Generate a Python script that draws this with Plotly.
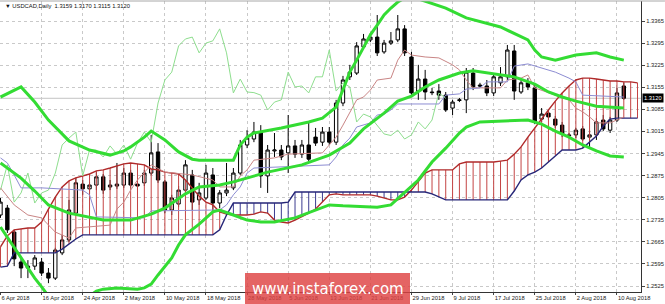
import plotly.graph_objects as go

# ---------------- data ----------------
date_labels = ["6 Apr 2018", "16 Apr 2018", "24 Apr 2018", "2 May 2018", "10 May 2018",
               "18 May 2018", "28 May 2018", "5 Jun 2018", "13 Jun 2018", "21 Jun 2018",
               "29 Jun 2018", "9 Jul 2018", "17 Jul 2018", "25 Jul 2018", "2 Aug 2018",
               "10 Aug 2018"]
date_label_bars = [0, 6, 12, 18, 24, 30, 36, 42, 48, 54, 60, 66, 72, 78, 84, 90]

price_ticks = ["1.3365", "1.3295", "1.3225", "1.3155", "1.3085", "1.3015", "1.2945",
               "1.2875", "1.2805", "1.2735", "1.2665", "1.2595", "1.2525"]

opens = [1.2750, 1.2772, 1.2696, 1.2601, 1.2582, 1.2588, 1.2601, 1.2566, 1.2550, 1.2630,
         1.2671, 1.2756, 1.2848, 1.2833, 1.2845, 1.2871, 1.2839, 1.2842, 1.2845, 1.2883,
         1.2848, 1.2852, 1.2883, 1.2950, 1.2855, 1.2766, 1.2785, 1.2829, 1.2877, 1.2798,
         1.2804, 1.2877, 1.2788, 1.2820, 1.2836, 1.2883, 1.2972, 1.2991, 1.3013, 1.2874,
         1.2953, 1.2956, 1.2947, 1.2969, 1.2943, 1.2972, 1.2997, 1.2981, 1.3013, 1.2981,
         1.3105, 1.3188, 1.3200, 1.3283, 1.3305, 1.3314, 1.3267, 1.3295, 1.3305, 1.3340,
         1.3251, 1.3143, 1.3181, 1.3140, 1.3143, 1.3130, 1.3089, 1.3113, 1.3115, 1.3200,
         1.3162, 1.3159, 1.3137, 1.3169, 1.3188, 1.3270, 1.3140, 1.3169, 1.3153, 1.3054,
         1.3073, 1.3054, 1.3035, 1.3004, 1.3004, 1.3023, 1.2997, 1.3004, 1.3051, 1.3019,
         1.3051, 1.3159]
highs = [1.2804, 1.2782, 1.2703, 1.2611, 1.2607, 1.2623, 1.2614, 1.2582, 1.2646, 1.2687,
         1.2798, 1.2868, 1.2861, 1.2855, 1.2886, 1.2880, 1.2861, 1.2915, 1.2899, 1.2893,
         1.2861, 1.2893, 1.3004, 1.2978, 1.2861, 1.2814, 1.2842, 1.2924, 1.2893, 1.2852,
         1.2909, 1.2899, 1.2829, 1.2915, 1.2899, 1.2988, 1.3019, 1.3045, 1.3035, 1.2972,
         1.3010, 1.2972, 1.3067, 1.2988, 1.2988, 1.3042, 1.3026, 1.3029, 1.3029, 1.3115,
         1.3191, 1.3226, 1.3298, 1.3324, 1.3327, 1.3384, 1.3305, 1.3330, 1.3384, 1.3352,
         1.3267, 1.3226, 1.3210, 1.3153, 1.3165, 1.3140, 1.3115, 1.3121, 1.3216, 1.3216,
         1.3169, 1.3178, 1.3194, 1.3219, 1.3289, 1.3289, 1.3178, 1.3184, 1.3162, 1.3089,
         1.3083, 1.3064, 1.3045, 1.3010, 1.3026, 1.3032, 1.3019, 1.3057, 1.3067, 1.3061,
         1.3153, 1.3170]
lows = [1.2741, 1.2693, 1.2588, 1.2550, 1.2550, 1.2576, 1.2557, 1.2534, 1.2544, 1.2623,
        1.2665, 1.2750, 1.2814, 1.2817, 1.2829, 1.2817, 1.2829, 1.2833, 1.2836, 1.2836,
        1.2829, 1.2842, 1.2877, 1.2852, 1.2756, 1.2750, 1.2775, 1.2823, 1.2766, 1.2782,
        1.2798, 1.2756, 1.2772, 1.2810, 1.2829, 1.2877, 1.2962, 1.2981, 1.2836, 1.2820,
        1.2934, 1.2924, 1.2883, 1.2931, 1.2931, 1.2918, 1.2969, 1.2969, 1.2972, 1.2972,
        1.3095, 1.3178, 1.3194, 1.3277, 1.3298, 1.3254, 1.3261, 1.3289, 1.3298, 1.3254,
        1.3130, 1.3115, 1.3115, 1.3130, 1.3115, 1.3077, 1.3067, 1.3108, 1.3073, 1.3146,
        1.3153, 1.3127, 1.3127, 1.3159, 1.3178, 1.3115, 1.3134, 1.3146, 1.3038, 1.3045,
        1.3051, 1.3026, 1.2997, 1.2994, 1.2994, 1.2985, 1.2962, 1.2988, 1.3016, 1.3010,
        1.3045, 1.3115]
closes = [1.2791, 1.2703, 1.2611, 1.2582, 1.2588, 1.2614, 1.2566, 1.2550, 1.2639, 1.2671,
          1.2766, 1.2852, 1.2833, 1.2845, 1.2871, 1.2829, 1.2845, 1.2848, 1.2883, 1.2845,
          1.2842, 1.2883, 1.2947, 1.2861, 1.2766, 1.2804, 1.2829, 1.2909, 1.2791, 1.2820,
          1.2883, 1.2788, 1.2820, 1.2829, 1.2883, 1.2972, 1.2994, 1.3013, 1.2874, 1.2956,
          1.2956, 1.2934, 1.2969, 1.2943, 1.2972, 1.2927, 1.2978, 1.3013, 1.2981, 1.3105,
          1.3178, 1.3203, 1.3286, 1.3308, 1.3314, 1.3264, 1.3295, 1.3302, 1.3340, 1.3264,
          1.3137, 1.3181, 1.3140, 1.3138, 1.3130, 1.3083, 1.3108, 1.3115, 1.3203, 1.3156,
          1.3159, 1.3137, 1.3188, 1.3188, 1.3273, 1.3143, 1.3169, 1.3156, 1.3045, 1.3070,
          1.3061, 1.3035, 1.3007, 1.3002, 1.3019, 1.2991, 1.3004, 1.3045, 1.3023, 1.3051,
          1.3137, 1.3120]

# Ichimoku cloud spans, one value per bar (bars 0..93)
span_a = [1.2649, 1.2684, 1.2703, 1.2706, 1.2709, 1.2709, 1.2728, 1.2769, 1.2807, 1.2839,
          1.2858, 1.2868, 1.2874, 1.2880, 1.2890, 1.2893, 1.2899, 1.2905, 1.2912, 1.2915,
          1.2912, 1.2909, 1.2896, 1.2893, 1.2886, 1.2883, 1.2880, 1.2861, 1.2836, 1.2810,
          1.2791, 1.2782, 1.2760, 1.2753, 1.2750, 1.2750, 1.2750, 1.2753, 1.2760, 1.2756,
          1.2734, 1.2728, 1.2725, 1.2734, 1.2744, 1.2756, 1.2769, 1.2791, 1.2814, 1.2817,
          1.2814, 1.2814, 1.2814, 1.2814, 1.2814, 1.2810, 1.2804, 1.2798, 1.2798, 1.2807,
          1.2829, 1.2855, 1.2883, 1.2893, 1.2893, 1.2893, 1.2893, 1.2912, 1.2918, 1.2918,
          1.2918, 1.2918, 1.2918, 1.2921, 1.2924, 1.2943, 1.2966, 1.2997, 1.3026, 1.3057,
          1.3083, 1.3111, 1.3137, 1.3159, 1.3178, 1.3184, 1.3184, 1.3181, 1.3178, 1.3175,
          1.3175, 1.3172, 1.3172, 1.3169]
span_b = [1.2585, 1.2588, 1.2630, 1.2630, 1.2630, 1.2630, 1.2630, 1.2630, 1.2630, 1.2642,
          1.2658, 1.2674, 1.2687, 1.2687, 1.2687, 1.2687, 1.2687, 1.2687, 1.2687, 1.2687,
          1.2687, 1.2687, 1.2687, 1.2687, 1.2687, 1.2687, 1.2687, 1.2687, 1.2687, 1.2687,
          1.2687, 1.2687, 1.2703, 1.2750, 1.2788, 1.2788, 1.2788, 1.2788, 1.2788, 1.2788,
          1.2788, 1.2788, 1.2791, 1.2823, 1.2823, 1.2823, 1.2823, 1.2823, 1.2823, 1.2823,
          1.2823, 1.2823, 1.2823, 1.2823, 1.2823, 1.2823, 1.2823, 1.2823, 1.2823, 1.2823,
          1.2823, 1.2823, 1.2823, 1.2817, 1.2807, 1.2798, 1.2798, 1.2798, 1.2798, 1.2798,
          1.2798, 1.2798, 1.2798, 1.2798, 1.2798, 1.2826, 1.2861, 1.2877, 1.2886, 1.2899,
          1.2918, 1.2940, 1.2956, 1.2956, 1.2956, 1.2962, 1.2981, 1.3000, 1.3032, 1.3054,
          1.3057, 1.3057, 1.3057, 1.3057]

# Tenkan-sen (read at its turning points)
tenkan_bars = [0, 2, 4, 6, 8, 10, 11, 13, 16, 17, 18, 19, 20, 22, 24, 28, 31, 32, 34, 35,
               36, 37, 40, 42, 47, 48, 49, 50, 51, 52, 53, 54, 55, 57, 58, 59, 60, 62, 64,
               66, 67, 68, 69, 73, 74, 76, 77, 78, 81, 83, 84, 85, 86, 87, 89, 90, 91]
tenkan = [1.2836, 1.2782, 1.2750, 1.2741, 1.2696, 1.2677, 1.2709, 1.2712, 1.2718, 1.2769,
          1.2791, 1.2829, 1.2861, 1.2909, 1.2886, 1.2877, 1.2861, 1.2839, 1.2839, 1.2874,
          1.2893, 1.2924, 1.2931, 1.2943, 1.2947, 1.2972, 1.2997, 1.3035, 1.3077, 1.3115,
          1.3124, 1.3146, 1.3178, 1.3184, 1.3241, 1.3273, 1.3257, 1.3251, 1.3248,
          1.3226, 1.3210, 1.3178, 1.3153, 1.3153, 1.3178, 1.3184, 1.3194, 1.3153, 1.3130,
          1.3115, 1.3089, 1.3077, 1.3061, 1.3042, 1.3042, 1.3051, 1.3061]

# Kijun-sen
kijun_bars = [0, 1, 2, 3, 6, 12, 13, 14, 21, 22, 32, 33, 34, 35, 36, 37, 48, 49, 50, 51,
              52, 54, 55, 56, 57, 58, 64, 65, 67, 68, 70, 71, 74, 75, 77, 79, 81, 83, 84,
              85, 91]
kijun = [1.2931, 1.2915, 1.2877, 1.2836, 1.2836, 1.2829, 1.2814, 1.2744, 1.2741, 1.2763,
         1.2766, 1.2782, 1.2814, 1.2839, 1.2883, 1.2899, 1.2909, 1.2934, 1.2972, 1.2994,
         1.3029, 1.3042, 1.3067, 1.3070, 1.3083, 1.3102, 1.3102, 1.3130, 1.3134, 1.3149,
         1.3153, 1.3172, 1.3172, 1.3222, 1.3229, 1.3216, 1.3203, 1.3184, 1.3172,
         1.3130, 1.3124]

# Bollinger bands
bb_up_bars = [0, 3, 5, 7, 10, 13, 16, 18, 19, 21, 22, 24, 26, 28, 29, 34, 35, 36, 37, 41,
              45, 47, 49, 50, 51, 52, 53, 54, 55, 56, 57, 58, 59, 60, 61, 62, 63, 65, 68,
              73, 77, 78, 79, 81, 84, 87, 89, 91]
bb_upper = [1.3124, 1.3156, 1.3108, 1.3051, 1.2985, 1.2956, 1.2940, 1.2953, 1.2966, 1.2997,
            1.3016, 1.2988, 1.2950, 1.2927, 1.2924, 1.2924, 1.2972, 1.2997, 1.3010, 1.3026,
            1.3045, 1.3057, 1.3092, 1.3146, 1.3203, 1.3241, 1.3283, 1.3321, 1.3352, 1.3384,
            1.3406, 1.3425, 1.3438, 1.3441, 1.3435, 1.3428, 1.3422, 1.3406, 1.3375,
            1.3346, 1.3305, 1.3273, 1.3251, 1.3241, 1.3257, 1.3264, 1.3251, 1.3241]
bb_mid_bars = [0, 3, 5, 7, 10, 15, 19, 22, 24, 27, 29, 32, 34, 39, 44, 48, 51, 53, 56, 58,
               60, 62, 64, 67, 69, 72, 75, 78, 80, 82, 84, 87, 91]
bb_middle = [1.2915, 1.2867, 1.2826, 1.2782, 1.2756, 1.2734, 1.2734, 1.2753, 1.2772, 1.2817,
             1.2839, 1.2845, 1.2855, 1.2886, 1.2909, 1.2940, 1.2978, 1.3023, 1.3073, 1.3111,
             1.3127, 1.3156, 1.3178, 1.3200, 1.3207, 1.3197, 1.3188, 1.3165, 1.3140, 1.3124,
             1.3111, 1.3095, 1.3089]
bb_low_bars = [0, 2, 4, 5, 6, 7, 9, 11, 13, 14, 15, 17, 20, 21, 22, 23, 25, 26, 27, 29, 31,
               32, 34, 36, 38, 40, 43, 46, 48, 50, 55, 57, 59, 61, 63, 65, 67, 68, 70, 73,
               77, 79, 81, 83, 85, 87, 89, 91]
bb_lower = [1.2712, 1.2646, 1.2582, 1.2550, 1.2522, 1.2493, 1.2462, 1.2465, 1.2493, 1.2509,
            1.2515, 1.2519, 1.2515, 1.2519, 1.2531, 1.2560, 1.2614, 1.2655, 1.2687, 1.2721,
            1.2760, 1.2766, 1.2750, 1.2734, 1.2728, 1.2728, 1.2741, 1.2766, 1.2782, 1.2779,
            1.2775, 1.2782, 1.2820, 1.2861, 1.2918, 1.2962, 1.3010, 1.3029, 1.3045, 1.3048,
            1.3051, 1.3038, 1.3016, 1.2997, 1.2972, 1.2953, 1.2937, 1.2934]

chikou_shift = 26
current_price = 1.3120
title_text = "\u25bc USDCAD,Daily  1.3159 1.3170 1.3115 1.3120"
watermark = "www.instaforex.com"

# ---------------- figure ----------------
FONT = "Liberation Sans"
fig = go.Figure()

# cloud hatching
rx, ry, bx, by = [], [], [], []
for j, (a, b) in enumerate(zip(span_a, span_b)):
    if a >= b:
        rx += [j, j, None]; ry += [a, b, None]
    else:
        bx += [j, j, None]; by += [a, b, None]
fig.add_trace(go.Scatter(x=rx, y=ry, mode="lines", line=dict(color="#c44444", width=1),
                         hoverinfo="skip"))
fig.add_trace(go.Scatter(x=bx, y=by, mode="lines", line=dict(color="#3c3c90", width=1),
                         hoverinfo="skip"))
span_x = list(range(len(span_a)))
fig.add_trace(go.Scatter(x=span_x, y=span_a, mode="lines", line=dict(color="#b02a2a", width=1.4)))
fig.add_trace(go.Scatter(x=span_x, y=span_b, mode="lines", line=dict(color="#262678", width=1.4)))

# chikou, tenkan, kijun
ch_x = list(range(len(closes) - chikou_shift))
fig.add_trace(go.Scatter(x=ch_x, y=closes[chikou_shift:], mode="lines",
                         line=dict(color="#8ede8e", width=1)))
fig.add_trace(go.Scatter(x=tenkan_bars, y=tenkan, mode="lines",
                         line=dict(color="#c98585", width=1)))
fig.add_trace(go.Scatter(x=kijun_bars, y=kijun, mode="lines",
                         line=dict(color="#8c8cd2", width=1)))

# candles
bars = list(range(len(opens)))
fig.add_trace(go.Candlestick(
    x=bars, open=opens, high=highs, low=lows, close=closes,
    increasing=dict(fillcolor="white", line=dict(color="black", width=1)),
    decreasing=dict(fillcolor="black", line=dict(color="black", width=1)),
    whiskerwidth=0, hoverinfo="skip"))

# Bollinger bands
green = "#33dc33"
for xs, ys in [(bb_up_bars, bb_upper), (bb_mid_bars, bb_middle), (bb_low_bars, bb_lower)]:
    fig.add_trace(go.Scatter(x=xs, y=ys, mode="lines", line=dict(color=green, width=3)))

# current price line
fig.add_shape(type="line", xref="paper", x0=0, x1=1, y0=current_price, y1=current_price,
              line=dict(color="#c4c4c4", width=1), layer="below")
# top border
fig.add_shape(type="line", xref="paper", yref="paper", x0=0, x1=1.0374, y0=1.0, y1=1.0,
              line=dict(color="#a8a8a8", width=1))

fig.update_layout(
    width=665, height=304,
    margin=dict(l=0, r=24, t=1, b=12),
    paper_bgcolor="white", plot_bgcolor="white",
    showlegend=False,
    xaxis=dict(range=[-0.073, 93.51], rangeslider=dict(visible=False),
               tickvals=date_label_bars, ticktext=date_labels, tickangle=0,
               ticklabelposition="outside right",
               ticks="outside", ticklen=2, tickcolor="#444",
               tickfont=dict(family=FONT, size=5.8, color="#222"),
               showgrid=True, gridcolor="#c9c9c9", griddash="dot", gridwidth=1,
               showline=True, linecolor="#333", linewidth=1, zeroline=False,
               fixedrange=True),
    yaxis=dict(range=[1.25060, 1.34284], side="right",
               tickvals=[float(t) for t in price_ticks], ticktext=price_ticks,
               ticks="outside", ticklen=3, tickcolor="#444",
               tickfont=dict(family=FONT, size=5.8, color="#222"),
               showgrid=True, gridcolor="#c9c9c9", griddash="dot", gridwidth=1,
               showline=True, linecolor="#333", linewidth=1, zeroline=False,
               fixedrange=True),
)

# title
fig.add_annotation(xref="paper", yref="paper", x=0.004, y=0.983, xanchor="left",
                   yanchor="middle", text=title_text, showarrow=False,
                   font=dict(family=FONT, size=5.8, color="#111"))
# current price tag
fig.add_annotation(xref="paper", yref="y", x=1.0, xshift=1, y=current_price,
                   xanchor="left", yanchor="middle", text="1.3120", showarrow=False,
                   bgcolor="black", borderpad=1, font=dict(family=FONT, size=5.8, color="white"))

# watermark
fig.add_shape(type="rect", xref="paper", yref="paper",
              x0=245 / 641, x1=410 / 641, y0=-12 / 291, y1=19 / 291,
              fillcolor="rgba(222,66,66,0.82)", line=dict(width=0), layer="above")
fig.add_annotation(xref="paper", yref="paper", x=328 / 641, y=3 / 291, xanchor="center",
                   yanchor="middle", text=watermark, showarrow=False,
                   font=dict(family="DejaVu Sans", size=15, color="white"))

fig.write_html("out.html")
